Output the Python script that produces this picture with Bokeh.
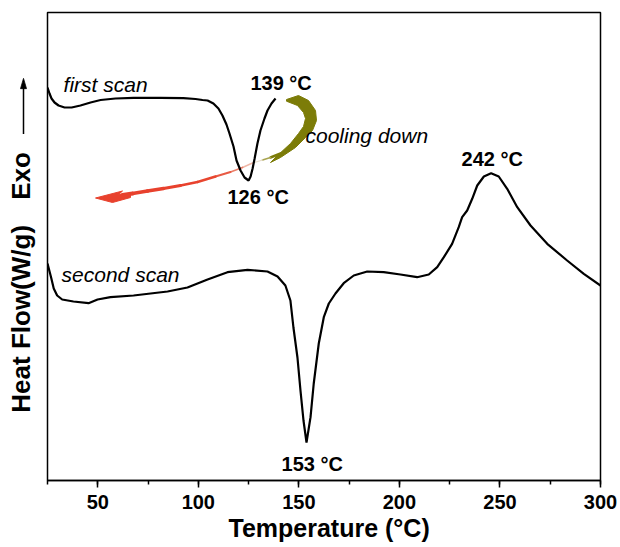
from math import pi
from bokeh.plotting import figure
from bokeh.layouts import row
from bokeh.models import Range1d, SingleIntervalTicker, Label, Title
from bokeh.core.properties import value
from bokeh.embed import file_html
from bokeh.resources import INLINE

# ---------------- data ----------------
first_T = [25.0, 26.0, 27.0, 28.5, 30.5, 33.5, 37.0, 41.4, 46.4, 51.4, 58.8, 67.8,
           81.2, 92.6, 98.6, 102.1, 104.6, 107.5, 110.0, 112.0, 114.0, 115.5, 117.5,
           119.0, 121.0, 123.0, 125.0, 126.0, 127.0, 128.0, 129.4, 130.9, 132.9,
           134.4, 136.4, 138.4]
first_H = [3.93, 3.87, 3.82, 3.78, 3.75, 3.73, 3.73, 3.75, 3.78, 3.805, 3.82, 3.827,
           3.827, 3.823, 3.815, 3.805, 3.80, 3.77, 3.72, 3.65, 3.56, 3.47, 3.34,
           3.20, 3.10, 3.03, 3.00, 3.04, 3.12, 3.22, 3.37, 3.50, 3.62,
           3.70, 3.77, 3.82]

second_T = [25.0, 26.8, 28.1, 29.8, 32.3, 37.9, 45.4, 49.9, 56.3, 67.8, 84.7, 94.6,
            104.6, 114.5, 124.5, 134.4, 139.4, 143.3, 145.8, 147.3, 149.3, 150.8,
            152.3, 153.8, 155.8, 157.4, 159.9, 162.4, 164.9, 168.2, 172.3, 177.3,
            184.0, 192.2, 200.5, 208.8, 214.6, 218.8, 222.1, 226.2, 229.5, 231.2,
            233.7, 236.2, 238.7, 242.0, 245.6, 249.4, 253.6, 258.6, 265.2, 273.5,
            283.4, 291.7, 300.0]
second_H = [2.17, 2.03, 1.92, 1.85, 1.81, 1.79, 1.773, 1.81, 1.833, 1.85, 1.89, 1.93,
            2.01, 2.083, 2.107, 2.09, 2.04, 1.95, 1.80, 1.53, 1.23, 0.90,
            0.60, 0.38, 0.633, 0.97, 1.37, 1.633, 1.77, 1.87, 1.973, 2.05,
            2.09, 2.083, 2.06, 2.033, 2.06, 2.133, 2.233, 2.367, 2.533, 2.633,
            2.70, 2.817, 2.95, 3.04, 3.073, 3.04, 2.917, 2.733, 2.55, 2.367,
            2.20, 2.067, 1.95]

scan_labels = ["first scan", "second scan"]
scan_label_pos = [(33.0, 3.96), (32.0, 2.06)]
peak_labels = ["139 °C", "126 °C", "153 °C", "242 °C"]
peak_label_pos = [(125.9, 3.98), (114.5, 2.84), (141.4, 0.17), (230.9, 3.22)]
cool_label = "cooling down"
cool_label_pos = (153.3, 3.45)

x_ticks_interval = 50
x_label = "Temperature (°C)"
y_label = "Heat Flow(W/g)"
exo_label = "Exo"

# ---------------- layout constants ----------------
PAGE_H = 547
LW = 46                       # width of the left strip with the y titles
W = 620 - LW
FL, FR, FT, FB = 1, 20, 12, 67
X0, X1 = 25, 300
Y0, Y1 = 0, 4.68
FRAME_LEFT_PX = LW + FL
fw = W - FL - FR
fh = PAGE_H - FT - FB

# ---------------- left strip (y-axis titles) ----------------
lp = figure(width=LW, height=PAGE_H, output_backend="svg", toolbar_location=None,
            x_range=Range1d(0, LW), y_range=Range1d(0, PAGE_H),
            min_border_left=0, min_border_right=0, min_border_top=0,
            min_border_bottom=0)
lp.axis.visible = False
lp.grid.visible = False
lp.outline_line_color = None
lp.background_fill_color = "white"
lp.border_fill_color = "white"

lp.text(x=[20], y=[189], text=[y_label], angle=pi / 2,
        text_align="center", text_baseline="middle",
        text_font=value("Liberation Sans"), text_font_style="bold",
        text_font_size="26px", text_color="black")
lp.text(x=[20], y=[356], text=[exo_label], angle=pi / 2,
        text_align="center", text_baseline="middle",
        text_font=value("Liberation Sans"), text_font_style="bold",
        text_font_size="26px", text_color="black")
lp.segment(x0=[23], y0=[PAGE_H - 142], x1=[23], y1=[PAGE_H - 87],
           line_color="black", line_width=1.5)
lp.patch([23, 20, 26], [PAGE_H - 77, PAGE_H - 89, PAGE_H - 89],
         fill_color="black", line_color="black", line_width=0.8)

# ---------------- main plot ----------------
p = figure(width=W, height=PAGE_H, output_backend="svg", toolbar_location=None,
           x_range=Range1d(X0, X1), y_range=Range1d(Y0, Y1),
           min_border_left=FL, min_border_right=FR, min_border_top=FT,
           min_border_bottom=FB)
p.grid.visible = False
p.yaxis.visible = False
p.outline_line_color = "black"
p.outline_line_width = 1.5
p.background_fill_color = "white"
p.border_fill_color = "white"

xa = p.xaxis[0]
xa.ticker = SingleIntervalTicker(interval=x_ticks_interval, num_minor_ticks=2)
xa.axis_line_width = 1.5
xa.axis_line_color = "black"
xa.major_tick_line_width = 1.5
xa.minor_tick_line_width = 1.5
xa.major_tick_out = 7
xa.major_tick_in = 0
xa.minor_tick_out = 4
xa.minor_tick_in = 0
xa.major_label_text_font = "Liberation Sans"
xa.major_label_text_font_style = "bold"
xa.major_label_text_font_size = "20px"
xa.major_label_text_color = "black"
xa.major_label_standoff = 7

p.add_layout(Title(text=x_label, align="left", offset=181, standoff=1,
                   text_font="Liberation Sans", text_font_style="bold",
                   text_font_size="25px", text_color="black"), "below")

# helper for decorative (non-data) geometry given in picture pixels
def pic(px, py):
    return (X0 + (px - FRAME_LEFT_PX) * (X1 - X0) / fw,
            Y0 + (FT + fh - py) * (Y1 - Y0) / fh)

# cooling-down decoration: olive crescent -> fading line -> red arrow head
cres_px = [(286, 99), (298, 95), (308, 100), (315, 110), (316, 120), (312, 130),
           (305, 137), (295, 147), (280, 157), (270, 162),
           (277, 155), (290, 143), (298, 133), (303, 126), (305, 118),
           (303, 112), (297, 105), (286, 100.7)]
cx, cy = zip(*[pic(a, b) for a, b in cres_px])
p.patch(list(cx), list(cy), fill_color="#7c7c08", line_color="#7c7c08", line_width=1)

path_px = [(280, 153), (270, 157), (262, 159.5), (252, 162.5), (242, 167), (230, 171.5),
           (215, 176), (197, 181.5), (180, 185), (163, 188), (147, 190.5),
           (132, 193), (122, 194.5)]
path_col = ["#7c7c08", "#a8a450", "#e6dccb", "#efb8a8", "#ea7e68", "#e85a44",
            "#e8462f", "#e8412d", "#e8412d", "#e8412d", "#e8412d", "#e8412d"]
path_w = [2.5, 1.6, 1.2, 1.4, 1.7, 2.0, 2.4, 2.7, 3.0, 3.3, 3.7, 4.2]
seg_x, seg_y = [], []
for i in range(len(path_px) - 1):
    a = pic(*path_px[i]); b = pic(*path_px[i + 1])
    seg_x.append([a[0], b[0]]); seg_y.append([a[1], b[1]])
p.multi_line(seg_x, seg_y, line_color=path_col, line_width=path_w, line_cap="round")

head_px = [(95, 197.5), (122, 190.5), (118, 194), (130, 192.8), (130, 197),
           (112, 202)]
hx, hy = zip(*[pic(a, b) for a, b in head_px])
p.patch(list(hx), list(hy), fill_color="#e8412d", line_color="#e8412d", line_width=1)

# curves
p.line(first_T, first_H, line_color="black", line_width=2.2)
p.line(second_T, second_H, line_color="black", line_width=2.2)

# in-plot labels
for t, (x, y) in zip(scan_labels, scan_label_pos):
    p.add_layout(Label(x=x, y=y, text=t, text_font="Liberation Sans",
                       text_font_style="italic", text_font_size="21px",
                       text_color="black", text_baseline="alphabetic",
                       text_align="left"))
for t, (x, y) in zip(peak_labels, peak_label_pos):
    p.add_layout(Label(x=x, y=y, text=t, text_font="Liberation Sans",
                       text_font_style="bold", text_font_size="20px",
                       text_color="black", text_baseline="alphabetic",
                       text_align="left"))
p.add_layout(Label(x=cool_label_pos[0], y=cool_label_pos[1], text=cool_label,
                   text_font="Liberation Sans", text_font_style="italic",
                   text_font_size="21px", text_color="black",
                   text_baseline="alphabetic", text_align="left"))

layout = row(lp, p, spacing=0)
open("out.html", "w").write(file_html(layout, INLINE))
